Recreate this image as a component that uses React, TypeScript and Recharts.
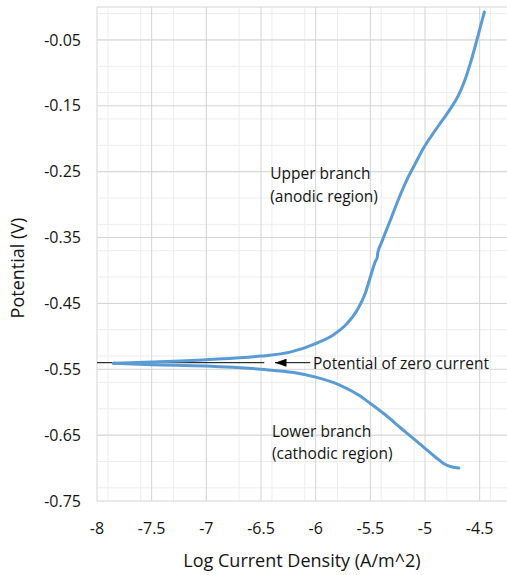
import React from "react";
import {
  LineChart,
  Line,
  XAxis,
  YAxis,
  CartesianGrid,
  ReferenceDot,
  Label,
} from "recharts";

// ---------- data ----------
const xTicks = [-8, -7.5, -7, -6.5, -6, -5.5, -5, -4.5];
const yTicks = [-0.75, -0.65, -0.55, -0.45, -0.35, -0.25, -0.15, -0.05];

const upperX = [
  -7.85, -7.5, -7.0, -6.5, -6.235, -6.0, -5.84, -5.715, -5.62, -5.547, -5.5,
  -5.456, -5.436, -5.432, -5.4, -5.32, -5.245, -5.17, -5.09, -5.013, -4.93,
  -4.85, -4.77, -4.7, -4.64, -4.585, -4.535, -4.495, -4.457,
];
const upperY = [
  -0.541, -0.539, -0.5355, -0.53, -0.524, -0.511, -0.498, -0.481, -0.46,
  -0.435, -0.41, -0.387, -0.3795, -0.373, -0.3587, -0.325, -0.293, -0.264,
  -0.238, -0.214, -0.193, -0.174, -0.155, -0.136, -0.113, -0.0855, -0.056,
  -0.031, -0.0076,
];

const lowerX = [
  -7.85, -7.5, -7.0, -6.5, -6.2, -6.0, -5.78, -5.6, -5.5, -5.35, -5.23, -5.1,
  -5.0, -4.9, -4.83, -4.76, -4.69,
];
const lowerY = [
  -0.541, -0.543, -0.545, -0.55, -0.555, -0.562, -0.574, -0.59, -0.602,
  -0.621, -0.638, -0.656, -0.67, -0.684, -0.693, -0.698, -0.7,
];

const zeroCurrentX = [-8, -6.47];
const zeroCurrentY = [-0.54, -0.54];

const arrowX = [-6.05, -6.372];
const arrowY = [-0.54, -0.54];

const minorXValues = Array.from({ length: 38 }, (_, i) => -8 + i * 0.1);
const minorYValues = Array.from({ length: 38 }, (_, i) => -0.75 + i * 0.02);

const toPoints = (xs: number[], ys: number[]) =>
  xs.map((x, i) => ({ x, y: ys[i] }));

const upperData = toPoints(upperX, upperY);
const lowerData = toPoints(lowerX, lowerY);
const zeroData = toPoints(zeroCurrentX, zeroCurrentY);
const arrowData = toPoints(arrowX, arrowY);

const FONT = "'Open Sans', sans-serif";
const BLUE = "#5b9bd5";
const TEXT = "#141414";

const makeText =
  (lines: string[], lineGap: number) =>
  (p: any) => (
    <text
      x={p.cx}
      y={p.cy}
      fontFamily={FONT}
      fontSize={15.5}
      fill={TEXT}
      dominantBaseline="central"
    >
      {lines.map((l, i) => (
        <tspan key={i} x={p.cx} dy={i === 0 ? 0 : lineGap}>
          {l}
        </tspan>
      ))}
    </text>
  );

const arrowDot = (props: any) => {
  const { cx, cy, index } = props;
  if (index !== 1) return <g key={`a${index}`} />;
  return (
    <path
      key={`a${index}`}
      d={`M${cx},${cy} L${cx + 11.5},${cy - 4} L${cx + 11.5},${cy + 4} Z`}
      fill="#000"
    />
  );
};

const YTitle = (props: any) => {
  const vb = props.viewBox || { x: 0, y: 0, width: 0, height: 0 };
  const cx = vb.x + 17;
  const cy = vb.y + vb.height / 2 + 14;
  return (
    <text
      x={cx}
      y={cy}
      transform={`rotate(-90, ${cx}, ${cy})`}
      textAnchor="middle"
      dominantBaseline="central"
      fontFamily={FONT}
      fontSize={18}
      fill={TEXT}
    >
      Potential (V)
    </text>
  );
};

export default function App() {
  return (
    <div
      style={{
        position: "absolute",
        left: 0,
        top: 0,
        width: 507,
        height: 575,
        background: "#fff",
        overflow: "hidden",
      }}
    >
      <LineChart
        width={507}
        height={575}
        margin={{ top: 7, right: 0, bottom: 0, left: 0 }}
      >
        <CartesianGrid
          stroke="#ededed"
          verticalValues={minorXValues}
          horizontalValues={minorYValues}
        />
        <CartesianGrid
          stroke="#d4d4d4"
          verticalValues={xTicks}
          horizontalValues={[...yTicks, 0]}
        />
        <XAxis
          type="number"
          dataKey="x"
          domain={[-8, -4.25]}
          ticks={xTicks}
          allowDataOverflow
          axisLine={false}
          tickLine={false}
          tickSize={0}
          tickMargin={22}
          height={74}
          tick={{ fontFamily: FONT, fontSize: 16, fill: TEXT }}
        >
          <Label
            value="Log Current Density (A/m^2)"
            position="insideBottom"
            offset={8}
            style={{ fontFamily: FONT, fontSize: 18, fill: TEXT }}
          />
        </XAxis>
        <YAxis
          type="number"
          dataKey="y"
          domain={[-0.75, 0]}
          ticks={yTicks}
          allowDataOverflow
          axisLine={false}
          tickLine={false}
          tickSize={0}
          tickMargin={16}
          width={97}
          tickFormatter={(v: number) => v.toFixed(2)}
          tick={{ fontFamily: FONT, fontSize: 16, fill: TEXT }}
        >
          <Label content={YTitle} />
        </YAxis>
        <Line
          data={zeroData}
          dataKey="y"
          stroke="#000"
          strokeWidth={1}
          dot={false}
          isAnimationActive={false}
        />
        <Line
          data={arrowData}
          dataKey="y"
          stroke="#000"
          strokeWidth={1}
          dot={arrowDot}
          isAnimationActive={false}
        />
        <Line
          data={upperData}
          dataKey="y"
          type="monotone"
          stroke={BLUE}
          strokeWidth={3}
          strokeLinecap="round"
          dot={false}
          isAnimationActive={false}
        />
        <Line
          data={lowerData}
          dataKey="y"
          type="monotone"
          stroke={BLUE}
          strokeWidth={3}
          strokeLinecap="round"
          dot={false}
          isAnimationActive={false}
        />
        <ReferenceDot
          x={-6.415}
          y={-0.2523}
          r={0}
          ifOverflow="visible"
          shape={makeText(["Upper branch", "(anodic region)"], 23)}
        />
        <ReferenceDot
          x={-6.4}
          y={-0.643}
          r={0}
          ifOverflow="visible"
          shape={makeText(["Lower branch", "(cathodic region)"], 22)}
        />
        <ReferenceDot
          x={-6.024}
          y={-0.54}
          r={0}
          ifOverflow="visible"
          shape={makeText(["Potential of zero current"], 0)}
        />
      </LineChart>
    </div>
  );
}
